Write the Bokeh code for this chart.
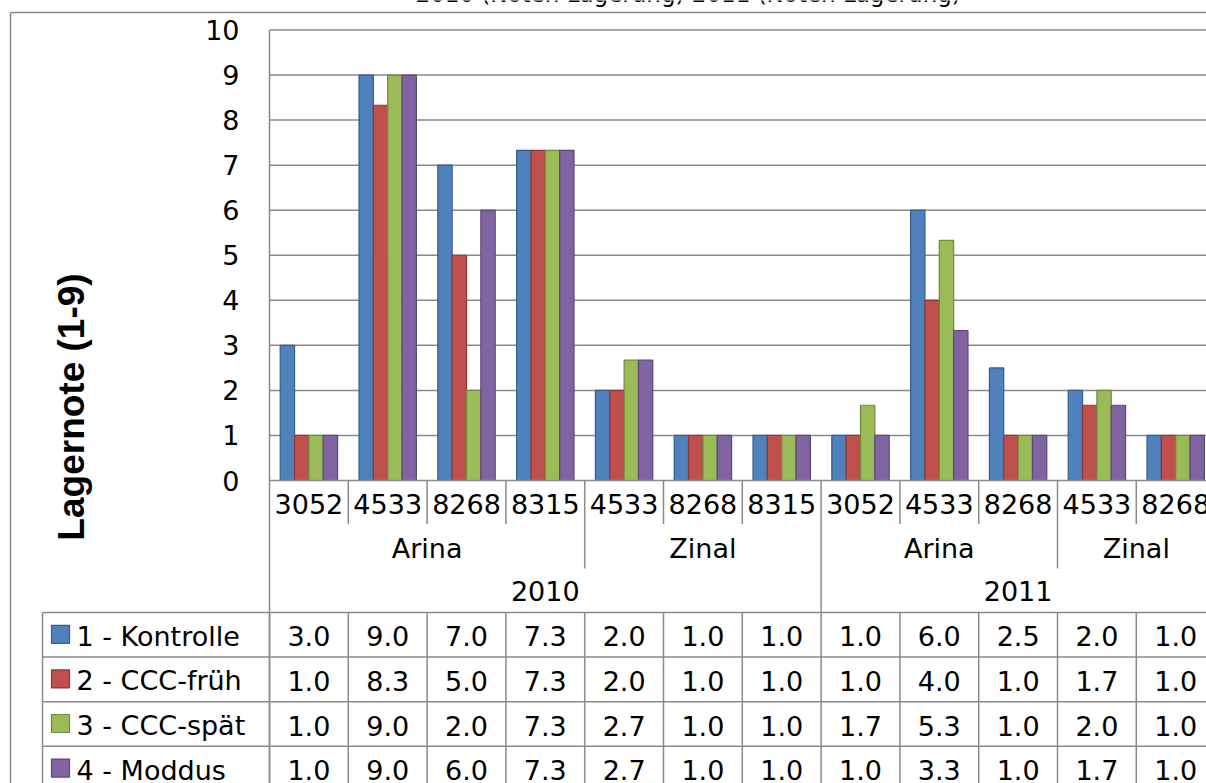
import math
from bokeh.plotting import figure
from bokeh.models import Range1d
from bokeh.core.properties import value
from bokeh.embed import file_html
from bokeh.resources import INLINE

# ---------------- data ----------------
codes = ["3052", "4533", "8268", "8315", "4533", "8268", "8315",
         "3052", "4533", "8268", "4533", "8268"]
sort_names = ["Arina", "Zinal", "Arina", "Zinal"]
sort_start = [0, 4, 7, 10]
sort_end = [4, 7, 10, 12]
year_names = ["2010", "2011"]
year_start = [0, 7]
year_end = [7, 12]
series_names = ["1 - Kontrolle", "2 - CCC-früh", "3 - CCC-spät", "4 - Moddus"]
kontrolle = [3.0, 9.0, 7.0, 7.33, 2.0, 1.0, 1.0, 1.0, 6.0, 2.5, 2.0, 1.0]
ccc_frueh = [1.0, 8.33, 5.0, 7.33, 2.0, 1.0, 1.0, 1.0, 4.0, 1.0, 1.67, 1.0]
ccc_spaet = [1.0, 9.0, 2.0, 7.33, 2.67, 1.0, 1.0, 1.67, 5.33, 1.0, 2.0, 1.0]
moddus = [1.0, 9.0, 6.0, 7.33, 2.67, 1.0, 1.0, 1.0, 3.33, 1.0, 1.67, 1.0]
y_ticks = [0, 1, 2, 3, 4, 5, 6, 7, 8, 9, 10]
y_tick_labels = ["0", "1", "2", "3", "4", "5", "6", "7", "8", "9", "10"]
y_title = "Lagernote (1-9)"
chart_title = "2010 (Noten Lagerung) 2011 (Noten Lagerung)"

series_values = [kontrolle, ccc_frueh, ccc_spaet, moddus]
fills = ["#4F81BD", "#C0504D", "#9BBB59", "#8064A2"]
edges = ["#385D8A", "#8C3836", "#71893F", "#5C4776"]

# ---------------- layout helpers (pixels of the page) ----------------
W, H = 1206, 783
OX, OY = 0, 0
CW = 78.8      # px per category
RH = 45.05     # px per value unit
PX0, PY0 = 269, 480


def fx(px):
    return (px - PX0) / CW


def fy(py):
    return (PY0 - py) / RH


p = figure(width=W, height=H,
           x_range=Range1d(fx(OX), fx(OX + W)),
           y_range=Range1d(fy(OY + H), fy(OY)),
           x_axis_type=None, y_axis_type=None,
           toolbar_location=None, output_backend="svg",
           min_border=0, outline_line_color=None)
p.grid.visible = False
p.background_fill_color = "white"
p.border_fill_color = "white"

n = len(codes)
GRAY = "#8a8a8a"
FONT = value("DejaVu Sans")
FS = "27px"

# gridlines (value axis)
gx0, gy0, gx1, gy1 = [], [], [], []
for t in y_ticks:
    if t == 0:
        continue
    gx0.append(0); gx1.append(n + 1); gy0.append(t); gy1.append(t)
p.segment(x0=gx0, y0=gy0, x1=gx1, y1=gy1, line_color=GRAY, line_width=1.5)

# bars
bw = 0.182
for k, vals in enumerate(series_values):
    xs = [i + 0.5 + (k - 1.5) * bw for i in range(n)]
    p.vbar(x=xs, top=vals, bottom=0, width=bw, fill_color=fills[k],
           line_color=edges[k], line_width=1.2)

# structural lines: axis, category separators, table
row_tops = [612.0, 656.6, 701.2, 745.8, 790.4]
lx0, ly0, lx1, ly1 = [], [], [], []


def seg(a, b, c, d):
    lx0.append(a); ly0.append(b); lx1.append(c); ly1.append(d)


seg(0, 0, n + 1, 0)                       # baseline
seg(0, y_ticks[-1], 0, fy(800))           # value axis line
for k in range(1, n + 1):
    if k in year_start or k in year_end:
        bottom = fy(612)
    elif k in sort_start or k in sort_end:
        bottom = fy(568)
    else:
        bottom = fy(523.5)
    seg(k, 0, k, bottom)
for k in range(0, n + 1):
    seg(k, fy(row_tops[0]), k, fy(800))
seg(fx(42), fy(row_tops[0]), fx(42), fy(800))
for rt in row_tops[:4]:
    seg(fx(42), fy(rt), n + 1, fy(rt))
# outer chart border
seg(fx(10), fy(12), fx(10), fy(800))
seg(fx(10), fy(12), n + 2, fy(12))
p.segment(x0=lx0, y0=ly0, x1=lx1, y1=ly1, line_color=GRAY, line_width=1.5)

# chart title (only its lowest part lies inside the picture)
p.text(x=[fx(415)], y=[fy(1)], text=[chart_title], y_offset=-8,
       text_align="left", text_baseline="alphabetic", text_font=FONT,
       text_font_size="23px", text_color="black")

# value-axis tick labels
p.text(x=[fx(239)] * len(y_ticks), y=y_ticks, text=y_tick_labels,
       text_align="right", text_baseline="middle", text_font=FONT,
       text_font_size=FS, text_color="black")

# value-axis title
p.text(x=[fx(71)], y=[fy(406.5)], text=[y_title], angle=math.pi / 2,
       text_align="center", text_baseline="alphabetic",
       text_font=value("Liberation Sans"), text_font_style="bold",
       text_font_size="37px", text_color="black")

# category labels (three levels)
p.text(x=[i + 0.5 for i in range(n)], y=[fy(503.5)] * n, text=codes,
       text_align="center", text_baseline="middle", text_font=FONT,
       text_font_size=FS, text_color="black")
p.text(x=[(s + e) / 2 for s, e in zip(sort_start, sort_end)],
       y=[fy(547.5)] * len(sort_names), text=sort_names,
       text_align="center", text_baseline="middle", text_font=FONT,
       text_font_size=FS, text_color="black")
p.text(x=[(s + e) / 2 for s, e in zip(year_start, year_end)],
       y=[fy(590.5)] * len(year_names), text=year_names,
       text_align="center", text_baseline="middle", text_font=FONT,
       text_font_size=FS, text_color="black")

# data table
for r, vals in enumerate(series_values):
    yc = (row_tops[r] + row_tops[r + 1]) / 2
    p.text(x=[i + 0.5 for i in range(n)], y=[fy(yc + 1.5)] * n,
           text=[f"{v:.1f}" for v in vals],
           text_align="center", text_baseline="middle", text_font=FONT,
           text_font_size=FS, text_color="black")
    p.scatter(x=[fx(60)], y=[fy(yc - 0.5)], marker="square", size=18,
              fill_color=fills[r], line_color=edges[r], line_width=1.2)
    p.text(x=[fx(76)], y=[fy(yc + 1.5)], text=[series_names[r]],
           text_align="left", text_baseline="middle", text_font=FONT,
           text_font_size=FS, text_color="black")

open("out.html", "w").write(file_html(p, INLINE))
